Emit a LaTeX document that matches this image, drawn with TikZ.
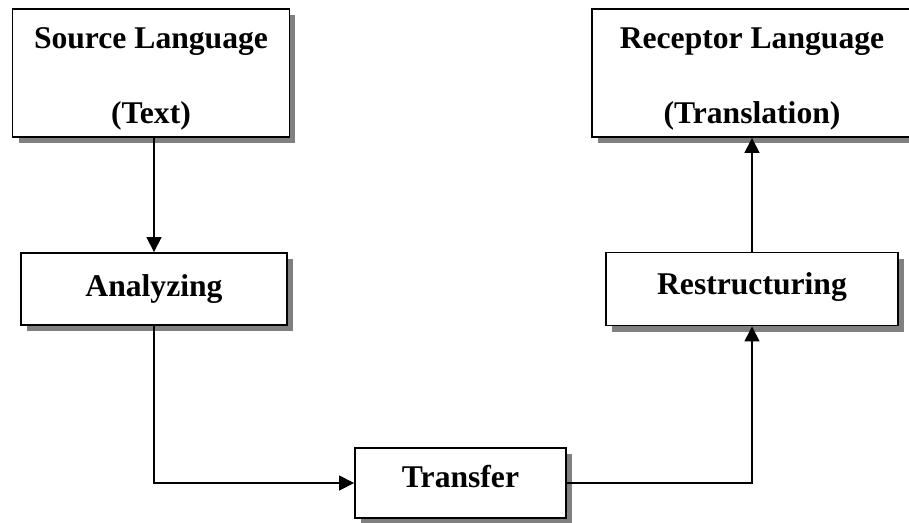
\documentclass[tikz,border=0pt]{standalone}
\usepackage{fontspec}
\setmainfont{Liberation Serif}
\usepackage{tikz}
\usetikzlibrary{arrows.meta}
\usetikzlibrary{shadows}

\begin{document}
\begin{tikzpicture}[x=0.02cm, y=-0.02cm,
    box/.style={draw, line width=1.1pt, fill=white, align=center, inner sep=0pt,
        font=\fontsize{18}{42.5}\selectfont\bfseries,
        drop shadow={shadow xshift=0.12cm, shadow yshift=-0.12cm, fill=black!50, opacity=1}},
    flow/.style={line width=0.9pt, -{Triangle[length=8.5pt, width=8.5pt]}}]
    \useasboundingbox (0,0) rectangle (909,522);

    %boxes
    \node[box, minimum width=5.54cm, minimum height=2.56cm] (source) at (151,73) {\rule{0pt}{0.65cm}Source Language\\(Text)};
    \node[box, minimum width=6.4cm, minimum height=2.56cm] (receptor) at (752,73) {\rule{0pt}{0.65cm}Receptor Language\\(Translation)};
    \node[box, minimum width=5.32cm, minimum height=1.44cm] (analyzing) at (154,289) {Analyzing};
    \node[box, minimum width=5.84cm, minimum height=1.46cm, text depth=0.22cm] (restructuring) at (752,289) {Restructuring};
    \node[box, minimum width=4.22cm, minimum height=1.4cm, text depth=0.28cm] (transfer) at (460.5,483) {Transfer};

    %arrows
    \draw[flow] (source.south -| analyzing.north) -- (analyzing.north);
    \draw[flow] (analyzing.south) |- (transfer.west);
    \draw[flow] (transfer.east) -| (restructuring.south);
    \draw[flow] (restructuring.north) -- (receptor.south);
\end{tikzpicture}
\end{document}
